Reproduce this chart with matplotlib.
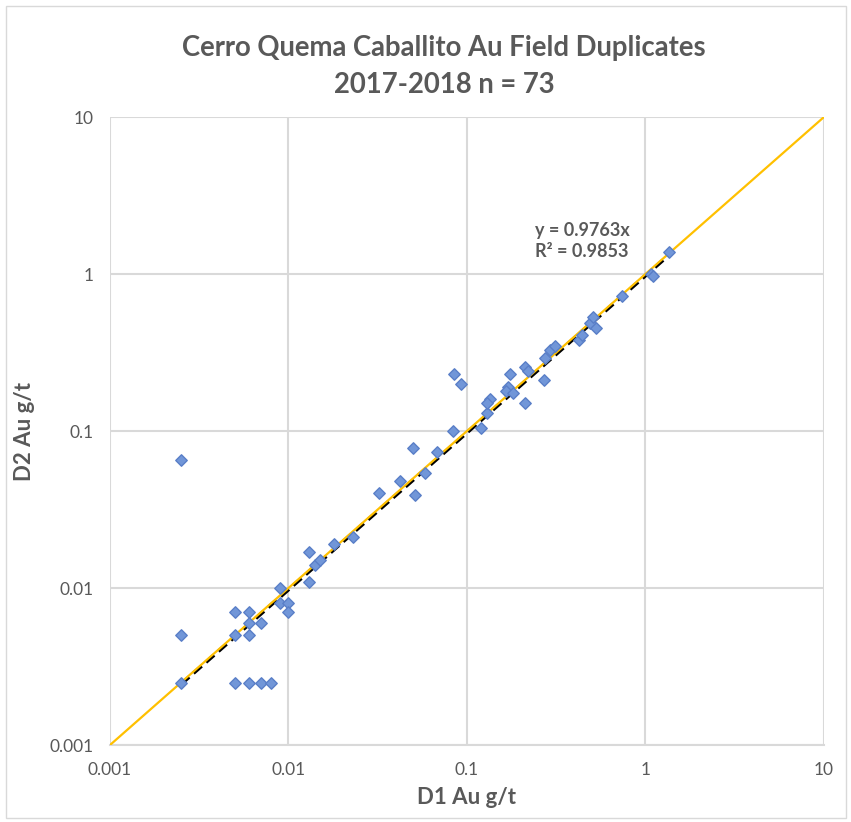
import numpy as np
import matplotlib
matplotlib.use('Agg')
import matplotlib.pyplot as plt
from matplotlib.patches import Rectangle

# D1 (original) vs D2 (duplicate) Au g/t
d1 = [0.0025, 0.0025, 0.0025, 0.005, 0.006, 0.007, 0.008, 0.005, 0.006, 0.005,
      0.006, 0.006, 0.007, 0.009, 0.009, 0.01, 0.01, 0.013, 0.013, 0.014,
      0.015, 0.018, 0.023, 0.032, 0.042, 0.051, 0.05, 0.058, 0.068, 0.083,
      0.085, 0.093, 0.12, 0.13, 0.135, 0.13, 0.175, 0.17, 0.165, 0.18,
      0.21, 0.22, 0.21, 0.275, 0.27, 0.29, 0.31, 0.425, 0.44, 0.49,
      0.51, 0.525, 0.74, 1.08, 1.1, 1.36]
d2 = [0.065, 0.005, 0.0025, 0.0025, 0.0025, 0.0025, 0.0025, 0.007, 0.007, 0.005,
      0.006, 0.005, 0.006, 0.01, 0.008, 0.008, 0.007, 0.017, 0.011, 0.014,
      0.015, 0.019, 0.021, 0.04, 0.048, 0.039, 0.078, 0.054, 0.073, 0.1,
      0.23, 0.2, 0.104, 0.13, 0.16, 0.15, 0.23, 0.19, 0.18, 0.175,
      0.255, 0.24, 0.15, 0.29, 0.21, 0.33, 0.35, 0.38, 0.41, 0.485,
      0.535, 0.45, 0.72, 1.0, 0.97, 1.39]

slope = 0.9763
r2 = 0.9853
ticks = [0.001, 0.01, 0.1, 1, 10]
tick_labels = ['0.001', '0.01', '0.1', '1', '10']

plt.rcParams['font.family'] = ['Lato', 'DejaVu Sans']
txt = '#595959'

fig = plt.figure(figsize=(8.51, 8.22), dpi=100)
ax = fig.add_axes([110/851, 1 - 745/822, 714/851, 628/822])

# chart border
fig.patches.append(Rectangle((6/851, 4/822), 840/851, 812/822, transform=fig.transFigure,
                             fill=False, edgecolor='#D9D9D9', linewidth=1))

ax.set_xscale('log')
ax.set_yscale('log')
ax.set_xlim(0.001, 10)
ax.set_ylim(0.001, 10)
ax.set_xticks(ticks)
ax.set_xticklabels(tick_labels)
ax.set_yticks(ticks)
ax.set_yticklabels(tick_labels)
ax.minorticks_off()
ax.tick_params(length=0, labelsize=12.5, colors=txt, pad=12)
ax.grid(True, color='#D9D9D9', linewidth=1.5)
for s in ax.spines.values():
    s.set_visible(False)
ax.spines['bottom'].set_visible(True)
ax.spines['bottom'].set_color('#D9D9D9')
ax.spines['bottom'].set_linewidth(1.5)

# 1:1 line
ax.plot([0.001, 10], [0.001, 10], color='#FFC000', linewidth=1.6, zorder=3)

# points
ax.scatter(d1, d2, marker='D', s=34, facecolor='#7196D8', edgecolor='#5A7FC8',
           linewidth=1, zorder=4)

# linear trendline through origin
xs = np.array([min(d1), max(d1)])
ax.plot(xs, slope * xs, color='black', linestyle=(0, (3, 1.6)), linewidth=2.6, zorder=2)

ax.text(0.24, 1.62, 'y = 0.9763x\nR² = %.4f' % r2, fontsize=13, fontweight='bold',
        color=txt, ha='left', va='center', linespacing=1.3)

fig.text(0.522, 1 - 48/822, 'Cerro Quema Caballito Au Field Duplicates', ha='center', va='center',
         fontsize=19.8, fontweight='bold', color=txt)
fig.text(0.522, 1 - 85/822, '2017-2018 n = 73', ha='center', va='center',
         fontsize=19.8, fontweight='bold', color=txt)
ax.set_xlabel('D1 Au g/t', fontsize=16, fontweight='bold', color=txt, labelpad=7)
ax.set_ylabel('D2 Au g/t', fontsize=16, fontweight='bold', color=txt, labelpad=10)

fig.savefig('out.png', dpi=100)
